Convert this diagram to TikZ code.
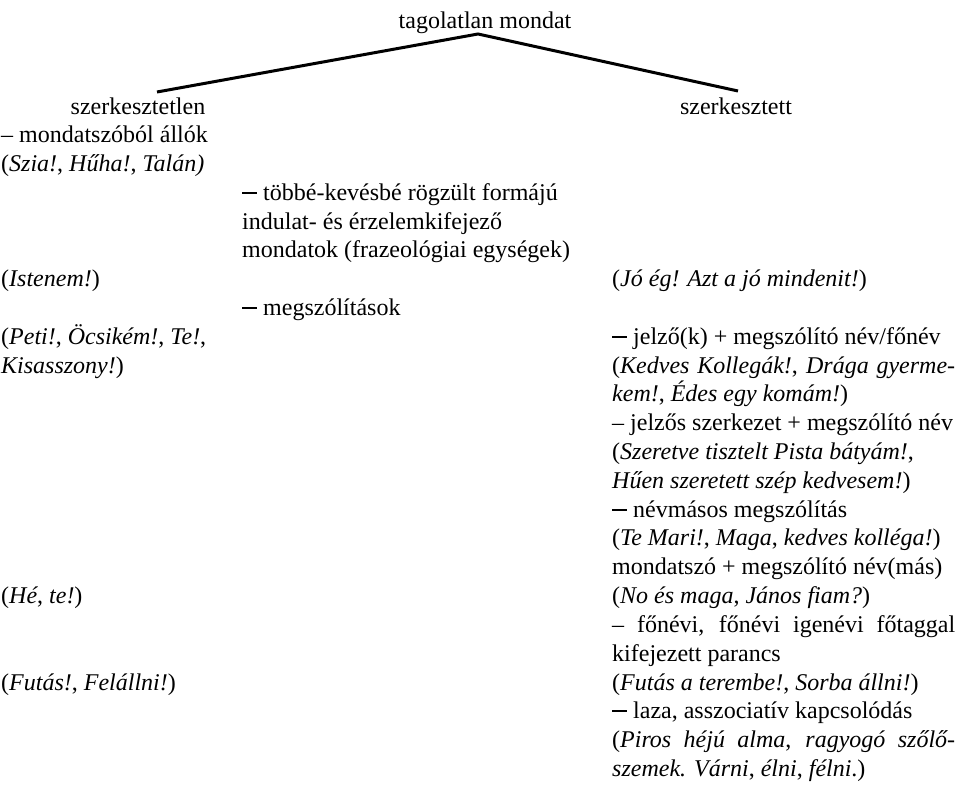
\documentclass[tikz,border=0pt]{standalone}
\usepackage{fontspec}
\setmainfont{Liberation Serif}
\usepackage{tikz}

\tikzset{
  txt/.style={anchor=west, inner sep=0pt, text height=17pt, text depth=5pt,
    font=\fontsize{24}{29}\selectfont},
  head/.style={txt, anchor=center},
  branch/.style={line width=3pt},
}
\newcommand{\justline}[1]{\makebox[343pt][s]{#1}}
\newcommand{\bardash}{\rule[6.5pt]{15pt}{2pt}}

\begin{document}
\begin{tikzpicture}[x=1pt,y=-1pt]
\useasboundingbox (0,0) rectangle (962,791);
\node [head] (top) at (485,23) {tagolatlan mondat};
\node [head] (unstr) at (138,109) {szerkesztetlen};
\node [head] (str) at (736,109) {szerkesztett};
\coordinate (lend) at (157,92);
\coordinate (rend) at (738,91);
\coordinate (apex) at (478,34);
\draw [branch] (lend) -- (apex) -- (rend);
% left column
\node [txt] (l1) at (1,136.8) {– mondatszóból állók};
\node [txt] (l2) at (1,165.6) {(\textit{Szia!}, \textit{Hűha!}, \textit{Talán)}};
\node [txt] (l3) at (1,280.8) {(\textit{Istenem!})};
\node [txt] (l4) at (1,338.4) {(\textit{Peti!}, \textit{Öcsikém!}, \textit{Te!},};
\node [txt] (l5) at (1,367.2) {\textit{Kisasszony!})};
\node [txt] (l6) at (1,597.6) {(\textit{Hé}, \textit{te!})};
\node [txt] (l7) at (1,684) {(\textit{Futás!}, \textit{Felállni!})};
% middle column
\node [txt] (m1) at (242,194.4) {\bardash{} többé-kevésbé rögzült formájú};
\node [txt] (m2) at (242,223.2) {indulat- és érzelemkifejező};
\node [txt] (m3) at (242,252) {mondatok (frazeológiai egységek)};
\node [txt] (m4) at (242,309.6) {\bardash{} megszólítások};
% right column
\node [txt] (r1) at (612,280.8) {(\textit{Jó ég! Azt a jó mindenit!})};
\node [txt] (r2) at (612,338.4) {\bardash{} jelző(k) + megszólító név/főnév};
\node [txt] (r3) at (612,367.2) {\justline{(\textit{Kedves Kollegák!}, \textit{Drága gyerme-}}};
\node [txt] (r4) at (612,396) {\textit{kem!}, \textit{Édes egy komám!})};
\node [txt] (r5) at (612,424.8) {– jelzős szerkezet + megszólító név};
\node [txt] (r6) at (612,453.6) {(\textit{Szeretve tisztelt Pista bátyám!},};
\node [txt] (r7) at (612,482.4) {\textit{Hűen szeretett szép kedvesem!})};
\node [txt] (r8) at (612,511.2) {\bardash{} névmásos megszólítás};
\node [txt] (r9) at (612,540) {(\textit{Te Mari!}, \textit{Maga}, \textit{kedves kolléga!})};
\node [txt] (r10) at (612,568.8) {mondatszó + megszólító név(más)};
\node [txt] (r11) at (612,597.6) {(\textit{No és maga}, \textit{János fiam?})};
\node [txt] (r12) at (612,626.4) {\justline{– főnévi, főnévi igenévi főtaggal}};
\node [txt] (r13) at (612,655.2) {kifejezett parancs};
\node [txt] (r14) at (612,684) {(\textit{Futás a terembe!}, \textit{Sorba állni!})};
\node [txt] (r15) at (612,712.8) {\bardash{} laza, asszociatív kapcsolódás};
\node [txt] (r16) at (612,741.6) {\justline{(\textit{Piros héjú alma}, \textit{ragyogó szőlő-}}};
\node [txt] (r17) at (612,770.4) {\textit{szemek. Várni}, \textit{élni}, \textit{félni}.)};
\end{tikzpicture}
\end{document}
